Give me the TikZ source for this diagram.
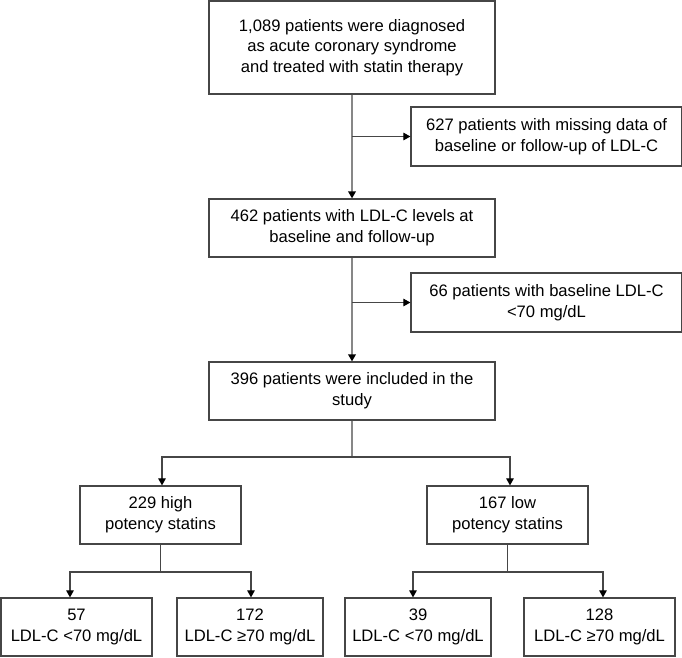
\documentclass[tikz,border=0pt]{standalone}
\usepackage{fontspec}
\setmainfont{Liberation Sans}
\usepackage{tikz}
\usetikzlibrary{arrows.meta,calc}
\definecolor{boxgray}{RGB}{70,70,70}
\definecolor{spinegray}{RGB}{135,135,135}

\begin{document}
\begin{tikzpicture}[
        x=1pt, y=-1pt,
        box/.style={draw=boxgray, line width=1.2pt, align=center, inner sep=2pt,
          font=\fontsize{16.6}{20.7}\selectfont},
        spine/.style={draw=spinegray, line width=1.7pt},
        link/.style={draw=boxgray, line width=1.1pt},
        tip/.style={-{Triangle[length=7pt,width=7.5pt,color=black]}}
      ]
        \useasboundingbox (0,0) rectangle (682,657);
        \node[box, minimum width=286pt, minimum height=93pt] (diag) at (352,47.5)
          {1,089 patients were diagnosed\\as acute coronary syndrome\\and treated with statin therapy};
        \node[box, minimum width=271pt, minimum height=59pt] (missing) at (546.5,136.5)
          {627 patients with missing data of\\baseline or follow-up of LDL-C};
        \node[box, minimum width=286pt, minimum height=58pt] (levels) at (352,228)
          {462 patients with LDL-C levels at\\baseline and follow-up};
        \node[box, minimum width=271pt, minimum height=59pt] (lowbase) at (546.5,302.5)
          {66 patients with baseline LDL-C\\<70 mg/dL};
        \node[box, minimum width=286pt, minimum height=58pt] (included) at (352,391)
          {396 patients were included in the\\study};
        \node[box, minimum width=161pt, minimum height=58pt] (high) at (160.5,515)
          {229 high\\potency statins};
        \node[box, minimum width=161pt, minimum height=58pt] (low) at (507.5,515)
          {167 low\\potency statins};
        \node[box, minimum width=151pt, minimum height=58pt] (highA) at (76.5,627)
          {57\\LDL-C <70 mg/dL};
        \node[box, minimum width=146pt, minimum height=58pt] (highB) at (250,627)
          {172\\LDL-C ≥70 mg/dL};
        \node[box, minimum width=146pt, minimum height=58pt] (lowA) at (418,627)
          {39\\LDL-C <70 mg/dL};
        \node[box, minimum width=151pt, minimum height=58pt] (lowB) at (599.5,627)
          {128\\LDL-C ≥70 mg/dL};

        \coordinate (j1) at (diag.south |- missing.west);
        \coordinate (j2) at (levels.south |- lowbase.west);
        \coordinate (j3) at (352,457);
        \coordinate (j4) at (high.south |- 0,572);
        \coordinate (j5) at (low.south |- 0,572);

        \draw[spine, tip] (diag.south) -- (levels.north);
        \draw[link, tip] (j1) -- (missing.west);
        \draw[spine, tip] (levels.south) -- (included.north);
        \draw[link, tip] (j2) -- (lowbase.west);
        \draw[spine] (included.south) -- (j3);
        \draw[link, tip] (j3) -| ([xshift=1.5pt]high.north);
        \draw[link, tip] (j3) -| ([xshift=2.5pt]low.north);
        \draw[link] (high.south) -- (j4);
        \draw[link, tip] (j4) -| ([xshift=-6.5pt]highA.north);
        \draw[link, tip] (j4) -| ([xshift=1pt]highB.north);
        \draw[link] (low.south) -- (j5);
        \draw[link, tip] (j5) -| ([xshift=-5pt]lowA.north);
        \draw[link, tip] (j5) -| ([xshift=3.5pt]lowB.north);
      \end{tikzpicture}
\end{document}
